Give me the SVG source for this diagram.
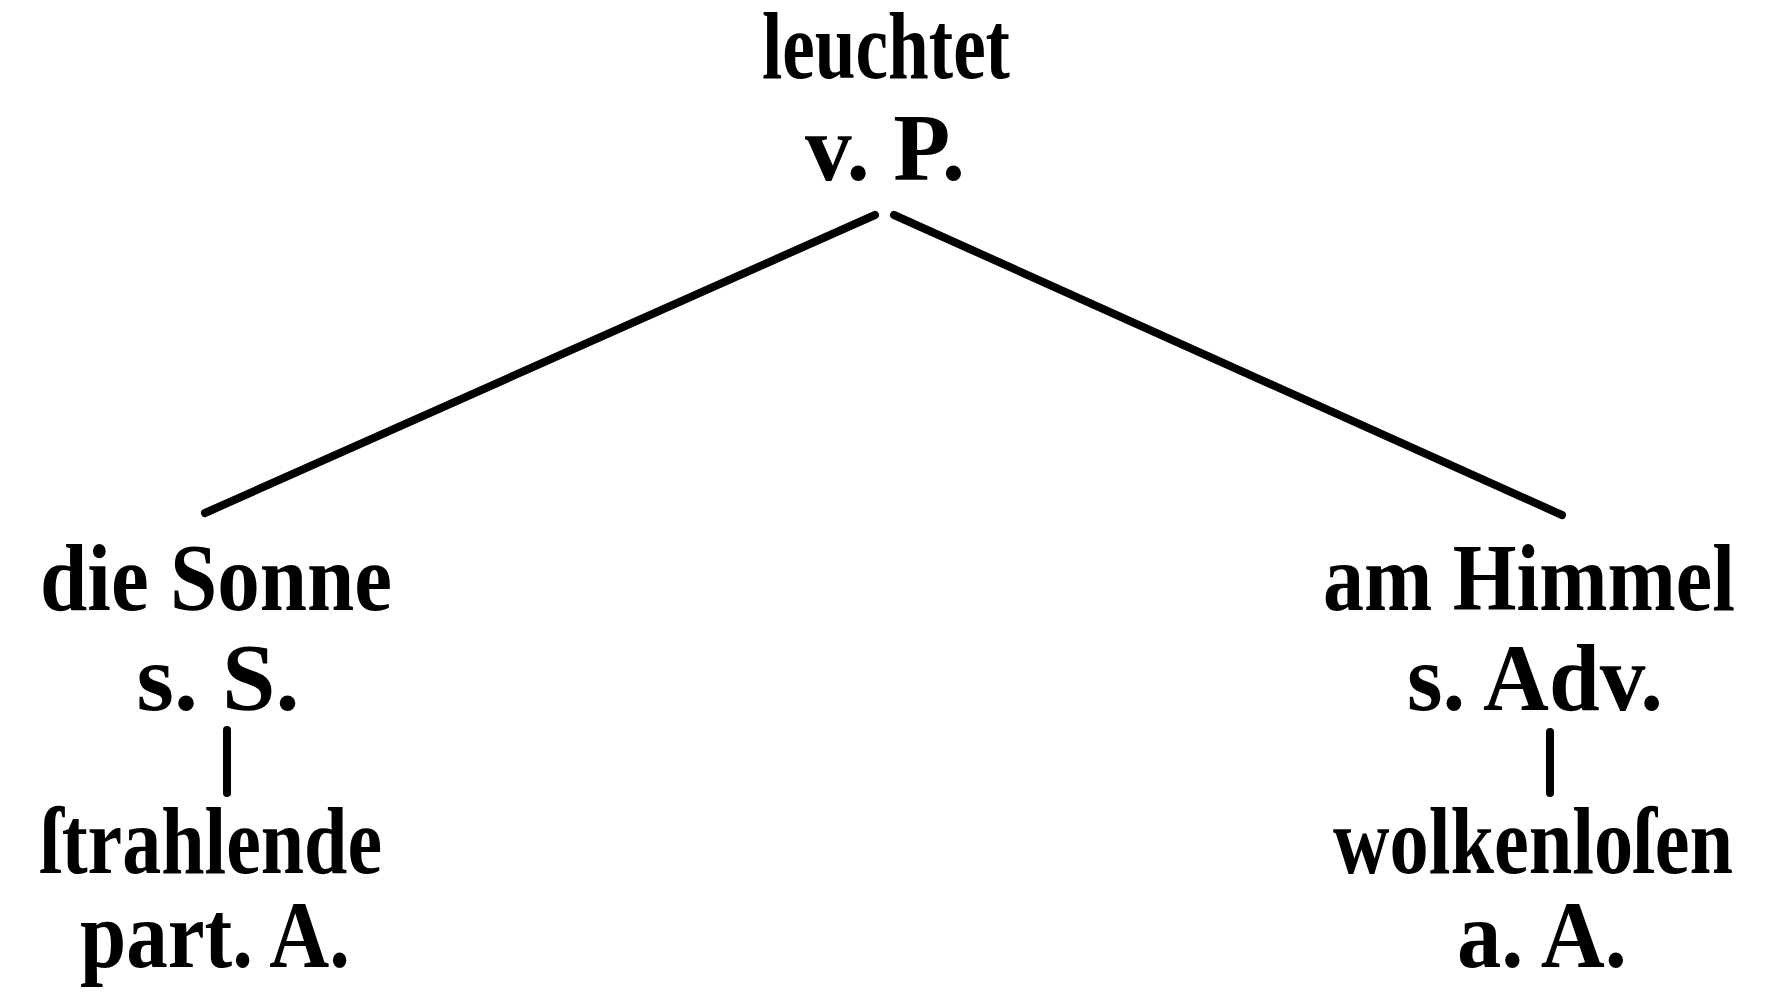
<svg xmlns="http://www.w3.org/2000/svg" width="1781" height="1007" viewBox="0 0 1781 1007">
<style>
.t{font-family:"Liberation Serif","DejaVu Serif",serif;font-weight:bold;font-size:96px;fill:#000;text-anchor:middle}
.c{stroke:#000;stroke-width:8;stroke-linecap:round;fill:none}
</style>
<rect width="1781" height="1007" fill="#fff"/>
<g id="connectors">
<line class="c" x1="875" y1="215" x2="205" y2="513"/>
<line class="c" x1="894" y1="215" x2="1562" y2="515"/>
<line class="c" x1="227" y1="730" x2="227" y2="793"/>
<line class="c" x1="1550" y1="732" x2="1550" y2="793"/>
</g>
<g id="root">
<text class="t" x="886" y="78" textLength="248" lengthAdjust="spacingAndGlyphs">leuchtet</text>
<text class="t" x="885" y="180" textLength="160" lengthAdjust="spacingAndGlyphs">v. P.</text>
</g>
<g id="subject">
<text class="t" x="216" y="610" textLength="352" lengthAdjust="spacingAndGlyphs">die Sonne</text>
<text class="t" x="218" y="710" textLength="163" lengthAdjust="spacingAndGlyphs">s. S.</text>
</g>
<g id="attribute-left">
<text class="t" x="211" y="873" textLength="342" lengthAdjust="spacingAndGlyphs">ſtrahlende</text>
<text class="t" x="215" y="967" textLength="270" lengthAdjust="spacingAndGlyphs">part. A.</text>
</g>
<g id="adverbial">
<text class="t" x="1529" y="610" textLength="412" lengthAdjust="spacingAndGlyphs">am Himmel</text>
<text class="t" x="1535" y="710" textLength="256" lengthAdjust="spacingAndGlyphs">s. Adv.</text>
</g>
<g id="attribute-right">
<text class="t" x="1533" y="873" textLength="400" lengthAdjust="spacingAndGlyphs">wolkenloſen</text>
<text class="t" x="1542" y="967" textLength="170" lengthAdjust="spacingAndGlyphs">a. A.</text>
</g>
</svg>
